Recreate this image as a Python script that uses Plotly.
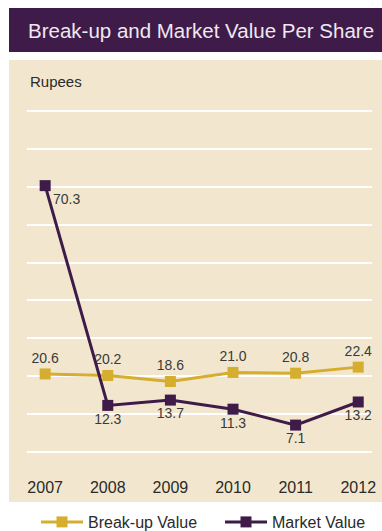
import plotly.graph_objects as go

# Per-share values, in rupees
years = ["2007", "2008", "2009", "2010", "2011", "2012"]
breakup_value = [20.6, 20.2, 18.6, 21.0, 20.8, 22.4]
market_value = [70.3, 12.3, 13.7, 11.3, 7.1, 13.2]

W, H = 382, 531
GOLD = "#D5AE2F"
PURPLE = "#3E1B48"
PANEL = "#F2E7CE"
FONT = "Liberation Sans, Arial, sans-serif"


def px_x(x):
    return x / W


def px_y(y):
    return 1 - y / H


fig = go.Figure()

fig.add_trace(go.Scatter(
    x=years, y=breakup_value, name="Break-up Value",
    mode="lines+markers+text",
    line=dict(color=GOLD, width=3),
    marker=dict(symbol="square", size=11, color=GOLD),
    text=[f"{v:.1f}" for v in breakup_value],
    textposition="top center",
    textfont=dict(size=14, color="#3a3a3a", family=FONT),
    cliponaxis=False,
    legend="legend",
))

mv_pos = ["bottom right"] + ["bottom center"] * (len(market_value) - 1)
fig.add_trace(go.Scatter(
    x=years, y=market_value, name="Market Value",
    mode="lines+markers+text",
    line=dict(color=PURPLE, width=3),
    marker=dict(symbol="square", size=11, color=PURPLE),
    text=[f"{v:.1f}" for v in market_value],
    textposition=mv_pos,
    textfont=dict(size=14, color="#3a3a3a", family=FONT),
    cliponaxis=False,
    legend="legend2",
))

# title bar and chart panel
fig.add_shape(type="rect", xref="paper", yref="paper",
              x0=px_x(9), x1=px_x(382), y0=px_y(52), y1=px_y(8),
              fillcolor=PURPLE, line=dict(width=0), layer="below")
fig.add_shape(type="rect", xref="paper", yref="paper",
              x0=px_x(9), x1=px_x(382), y0=px_y(502), y1=px_y(60),
              fillcolor=PANEL, line=dict(width=0), layer="below")

fig.add_annotation(text="Break-up and Market Value Per Share",
                   xref="paper", yref="paper", x=px_x(26), y=px_y(31),
                   xanchor="left", yanchor="middle", showarrow=False,
                   font=dict(size=20.5, color="#EFE8F1", family=FONT))
fig.add_annotation(text="Rupees",
                   xref="paper", yref="paper", x=px_x(28), y=px_y(81),
                   xanchor="left", yanchor="middle", showarrow=False,
                   font=dict(size=15, color="#2a2a2a", family=FONT))

# y: 0 at 452px, 90 at 111px
y_lo, y_hi = -0.5, 90.5
ppu = (452 - 111) / 90
top_px = 111 - (y_hi - 90) * ppu
bot_px = 452 + (0 - y_lo) * ppu

legend_style = dict(orientation="h", yanchor="middle", xanchor="left",
                    y=px_y(522), font=dict(size=16, color="#2a2a2a"),
                    bgcolor="rgba(0,0,0,0)", itemwidth=42, itemclick=False)

fig.update_layout(
    width=W, height=H,
    margin=dict(l=0, r=0, t=0, b=0, autoexpand=False),
    paper_bgcolor="white",
    plot_bgcolor="rgba(0,0,0,0)",
    font=dict(family=FONT, color="#2a2a2a"),
    showlegend=True,
    legend=dict(x=px_x(36), **legend_style),
    legend2=dict(x=px_x(220), **legend_style),
    xaxis=dict(domain=[px_x(27), px_x(372)], type="category",
               range=[-0.29, 5.22], showgrid=False, zeroline=False,
               showline=False, ticks="", ticklabelstandoff=22, automargin=False,
               tickfont=dict(size=16, color="#2a2a2a")),
    yaxis=dict(domain=[px_y(bot_px), px_y(top_px)], range=[y_lo, y_hi],
               dtick=10, tick0=0, showgrid=True, gridcolor="white",
               gridwidth=1.5, zeroline=False, showline=False, automargin=False,
               showticklabels=False, ticks=""),
)

fig.write_html("out.html")
